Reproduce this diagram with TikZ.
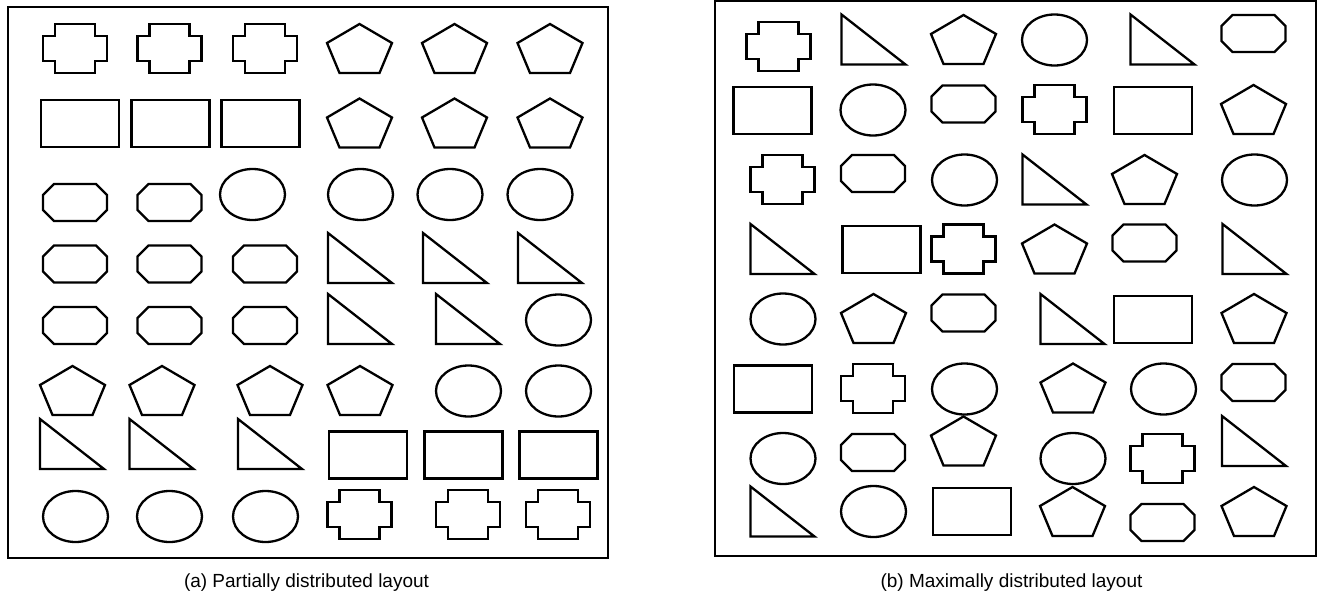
\documentclass[tikz,border=0pt]{standalone}
\usepackage{fontspec}
\newfontfamily\capfont{Liberation Sans}
\tikzset{
  shp/.style={draw=black, line width=2.3pt, line join=miter},
  frm/.style={draw=black, line width=2.2pt},
  captext/.style={font=\capfont\fontsize{19}{21}\selectfont, anchor=base, inner sep=0pt},
  shcross/.pic={\draw[shp] (-20,-24.5) -- (20,-24.5) -- (20,-12.5) -- (32,-12.5) -- (32,12.5) -- (20,12.5) -- (20,24.5) -- (-20,24.5) -- (-20,12.5) -- (-32,12.5) -- (-32,-12.5) -- (-20,-12.5) -- cycle;},
  shrect/.pic={\draw[shp] (-39,-23.5) rectangle (39,23.5);},
  shoct/.pic={\draw[shp] (-21,-18.5) -- (21,-18.5) -- (32,-7.5) -- (32,7.5) -- (21,18.5) -- (-21,18.5) -- (-32,7.5) -- (-32,-7.5) -- cycle;},
  shell/.pic={\draw[shp] (0,0) ellipse [x radius=32.5, y radius=25.5];},
  shpent/.pic={\draw[shp] (0,-24.5) -- (32.5,-5.5) -- (20,24.5) -- (-20,24.5) -- (-32.5,-5.5) -- cycle;},
  shtri/.pic={\draw[shp] (-32,-25) -- (32,25) -- (-32,25) -- cycle;},
}
\begin{document}
\begin{tikzpicture}[x=1pt,y=-1pt]
\useasboundingbox (0,0) rectangle (1317,595);
% frames
\draw[frm] (8,7) rectangle (608,558);
\draw[frm] (715,1) rectangle (1316,556);
% ---- left panel ----
% row 1
\pic at (75,48.5) {shcross};
\pic at (169.5,48.5) {shcross};
\pic at (265,48.5) {shcross};
\pic at (359.5,48.5) {shpent};
\pic at (454.5,48.5) {shpent};
\pic at (550,48.5) {shpent};
% row 2
\pic at (80,123.5) {shrect};
\pic at (170.5,123.5) {shrect};
\pic at (260.5,123.5) {shrect};
\pic at (359.5,123) {shpent};
\pic at (454.5,123) {shpent};
\pic at (550,123) {shpent};
% row 3
\pic at (75,202.5) {shoct};
\pic at (169.5,202.5) {shoct};
\pic at (252.5,194.5) {shell};
\pic at (360.5,194.5) {shell};
\pic at (450,194.5) {shell};
\pic at (540,194.5) {shell};
% row 4
\pic at (75,264) {shoct};
\pic at (169.5,264) {shoct};
\pic at (265,264) {shoct};
\pic at (360,258) {shtri};
\pic at (455,258) {shtri};
\pic at (550,258) {shtri};
% row 5
\pic at (75,325.5) {shoct};
\pic at (169.5,325.5) {shoct};
\pic at (265,325.5) {shoct};
\pic at (360,319) {shtri};
\pic at (468,319) {shtri};
\pic at (558.5,320) {shell};
% row 6
\pic at (72.5,390.5) {shpent};
\pic at (162,390.5) {shpent};
\pic at (270,390.5) {shpent};
\pic at (360,390.5) {shpent};
\pic at (468.5,391) {shell};
\pic at (558.5,391) {shell};
% row 7
\pic at (72,444) {shtri};
\pic at (161.5,444) {shtri};
\pic at (270,444) {shtri};
\pic at (368,455) {shrect};
\pic at (463.5,455) {shrect};
\pic at (558.5,455) {shrect};
% row 8
\pic at (75.5,516.5) {shell};
\pic at (169.5,516.5) {shell};
\pic at (265.5,516.5) {shell};
\pic at (359.5,514.5) {shcross};
\pic at (468,514.5) {shcross};
\pic at (558,514.5) {shcross};
% ---- right panel ----
% row 1
\pic at (778.5,46.5) {shcross};
\pic at (873.5,39.5) {shtri};
\pic at (963.5,39.5) {shpent};
\pic at (1054.5,40) {shell};
\pic at (1162.5,39.5) {shtri};
\pic at (1253.5,33.5) {shoct};
% row 2
\pic at (772.5,110.5) {shrect};
\pic at (873,110) {shell};
\pic at (963.5,104) {shoct};
\pic at (1054.5,109.5) {shcross};
\pic at (1153,110.5) {shrect};
\pic at (1253.5,109.5) {shpent};
% row 3
\pic at (782.5,179.5) {shcross};
\pic at (873,173.5) {shoct};
\pic at (964.5,180) {shell};
\pic at (1054.5,179.5) {shtri};
\pic at (1144.5,179.5) {shpent};
\pic at (1254.5,180) {shell};
% row 4
\pic at (782.5,249) {shtri};
\pic at (881.5,249.5) {shrect};
\pic at (963.5,249) {shcross};
\pic at (1054.5,249) {shpent};
\pic at (1144.5,243) {shoct};
\pic at (1254.5,249) {shtri};
% row 5
\pic at (783,319) {shell};
\pic at (873.5,318.5) {shpent};
\pic at (963.5,313) {shoct};
\pic at (1072.5,319) {shtri};
\pic at (1153,319.5) {shrect};
\pic at (1254,318.5) {shpent};
% row 6
\pic at (773,389) {shrect};
\pic at (873,388.5) {shcross};
\pic at (964.5,389) {shell};
\pic at (1073,388) {shpent};
\pic at (1163.5,389) {shell};
\pic at (1253.5,382.5) {shoct};
% row 7
\pic at (783,458.5) {shell};
\pic at (873,452.5) {shoct};
\pic at (963.5,441) {shpent};
\pic at (1073,458.5) {shell};
\pic at (1162.5,458.5) {shcross};
\pic at (1254,441) {shtri};
% row 8
\pic at (782.5,511.5) {shtri};
\pic at (873.5,511.5) {shell};
\pic at (972,511.5) {shrect};
\pic at (1072.5,511.5) {shpent};
\pic at (1162.5,522.5) {shoct};
\pic at (1254,511.5) {shpent};
% captions
\node[captext] (capa) at (306.5,587.5) {(a) Partially distributed layout};
\node[captext] (capb) at (1011.5,587.5) {(b) Maximally distributed layout};
\end{tikzpicture}
\end{document}
